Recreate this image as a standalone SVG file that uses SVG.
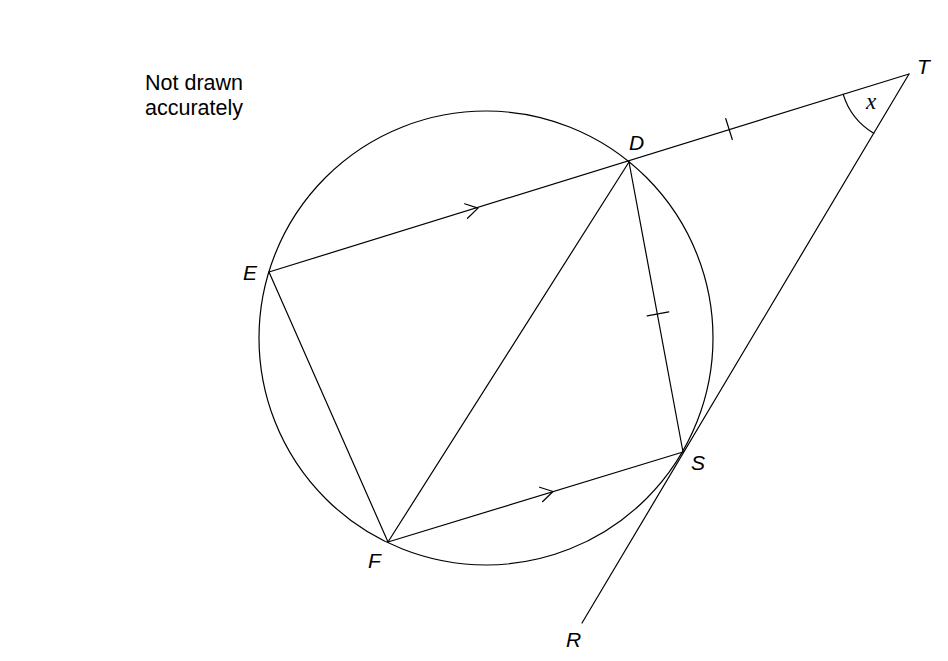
<svg xmlns="http://www.w3.org/2000/svg" width="948" height="661" viewBox="0 0 948 661">
<style>
.ln{fill:none;stroke:#000;stroke-width:1.2;stroke-linecap:round;stroke-linejoin:round}
.lb{font-family:"Liberation Sans",Arial,sans-serif;font-style:italic;font-size:21px;fill:#000}
.nt{font-family:"Liberation Sans",Arial,sans-serif;font-size:21.5px;fill:#000}
</style>
<rect width="948" height="661" fill="#fff"/>
<g id="circle"><circle class="ln" cx="486" cy="338" r="227"/></g>
<g id="connectors">
<line class="ln" x1="269" y1="272" x2="909" y2="74"/>
<line class="ln" x1="909" y1="74" x2="582" y2="623"/>
<line class="ln" x1="269" y1="272" x2="388" y2="542"/>
<line class="ln" x1="388" y1="542" x2="629" y2="162"/>
<line class="ln" x1="629" y1="162" x2="683" y2="452"/>
<line class="ln" x1="388" y1="542" x2="683" y2="452"/>
<polyline class="ln" points="464.6,203.8 478,208.1 467.5,218.3"/>
<polyline class="ln" points="539.6,487.2 553,491.5 542.5,501.7"/>
<line class="ln" x1="725.7" y1="118.5" x2="732.3" y2="139.5"/>
<line class="ln" x1="647.2" y1="315.8" x2="668.8" y2="311.8"/>
<path class="ln" d="M843.2,94.4 A69,69 0 0 0 873.7,133.3"/>
</g>
<g id="labels">
<text class="lb" x="917" y="74">T</text>
<text class="lb" x="629" y="150">D</text>
<text class="lb" x="243" y="280">E</text>
<text class="lb" x="368" y="568">F</text>
<text class="lb" x="691" y="470">S</text>
<text class="lb" x="566" y="647">R</text>
<text x="866" y="109" font-family="Liberation Serif,'Times New Roman',serif" font-style="italic" font-size="23">x</text>
<text class="nt" x="145" y="90">Not drawn</text>
<text class="nt" x="145" y="115">accurately</text>
</g>
</svg>
